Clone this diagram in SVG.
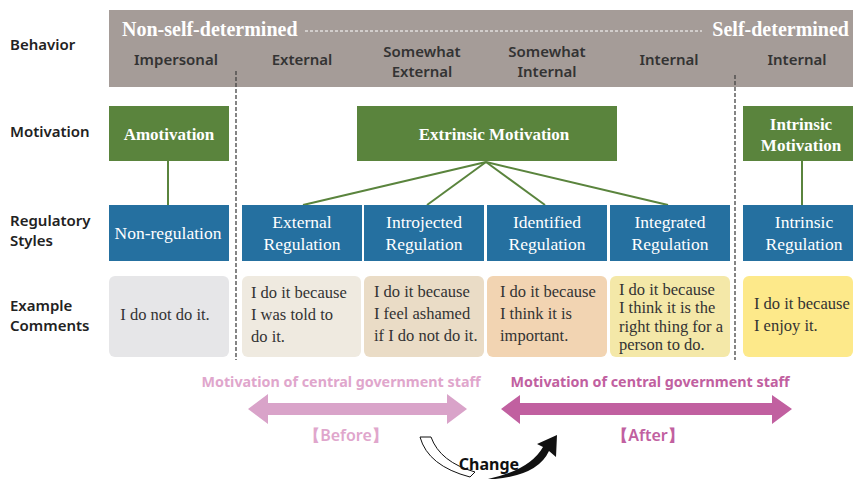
<svg xmlns="http://www.w3.org/2000/svg" width="853" height="479" viewBox="0 0 853 479">
<style>
.lbl{font-family:"Noto Sans","Open Sans",sans-serif;font-weight:600;font-size:15px;fill:#222}
.sub{font-family:"Noto Sans","Open Sans",sans-serif;font-weight:600;font-size:15px;fill:#333;text-anchor:middle}
.hdr{font-family:"Liberation Serif",serif;font-weight:bold;font-size:20px;fill:#fff}
.mot{fill:#5a843d}
.motT{font-family:"Liberation Serif",serif;font-weight:bold;font-size:17px;fill:#fff;text-anchor:middle}
.reg{fill:#2570a0}
.regT{font-family:"Liberation Serif",serif;font-size:17.5px;fill:#fff;text-anchor:middle}
.ex{font-family:"Liberation Serif",serif;font-size:16.5px;fill:#333}
.conn{stroke:#5a843d;stroke-width:2;fill:none}
.vd{stroke:#444;stroke-width:1.3;stroke-dasharray:4,2;fill:none}
.bt{font-family:"Noto Sans","Open Sans",sans-serif;font-weight:bold;font-size:14.3px;text-anchor:middle}
.bb{font-family:"Noto Sans","Open Sans",sans-serif;font-weight:600;font-size:16px;text-anchor:middle}
</style>
<rect x="0" y="0" width="853" height="479" fill="#fff"/>
<g id="row-labels">
<text class="lbl" x="10" y="50">Behavior</text>
<text class="lbl" x="10" y="137">Motivation</text>
<text class="lbl" x="10" y="226">Regulatory</text>
<text class="lbl" x="10" y="246">Styles</text>
<text class="lbl" x="10" y="311">Example</text>
<text class="lbl" x="10" y="331">Comments</text>
</g>
<g id="behavior">
<rect x="109" y="10" width="744" height="77" fill="#a59c98"/>
<text class="hdr" x="122" y="36">Non-self-determined</text>
<line x1="305" y1="31" x2="702" y2="31" stroke="#fff" stroke-width="1" stroke-dasharray="3,2"/>
<text class="hdr" x="849" y="36" text-anchor="end">Self-determined</text>
<text class="sub" x="176" y="65">Impersonal</text>
<text class="sub" x="302" y="65">External</text>
<text class="sub" x="422" y="57">Somewhat</text>
<text class="sub" x="422" y="77">External</text>
<text class="sub" x="547" y="57">Somewhat</text>
<text class="sub" x="547" y="77">Internal</text>
<text class="sub" x="669" y="65">Internal</text>
<text class="sub" x="797" y="65">Internal</text>
</g>
<g id="connectors">
<line class="vd" x1="236" y1="71" x2="236" y2="360"/>
<line class="vd" x1="735" y1="75" x2="735" y2="360"/>
<line class="conn" x1="168" y1="161" x2="168" y2="205"/>
<line class="conn" x1="486" y1="162" x2="303" y2="205"/>
<line class="conn" x1="486" y1="162" x2="427" y2="205"/>
<line class="conn" x1="486" y1="162" x2="545" y2="205"/>
<line class="conn" x1="486" y1="162" x2="668" y2="205"/>
<line class="conn" x1="802" y1="161" x2="802" y2="205"/>
</g>
<g id="amotivation"><rect class="mot" x="109" y="106" width="120" height="55"/><text class="motT" x="169" y="140">Amotivation</text></g>
<g id="extrinsic"><rect class="mot" x="357" y="106" width="260" height="55"/><text class="motT" x="494" y="140">Extrinsic Motivation</text></g>
<g id="intrinsic"><rect class="mot" x="743" y="106" width="110" height="55"/><text class="motT" x="801" y="130">Intrinsic</text><text class="motT" x="801" y="151">Motivation</text></g>
<g id="non-regulation"><rect class="reg" x="109" y="205" width="120" height="56"/><text class="regT" x="168" y="239">Non-regulation</text></g>
<g id="external-regulation"><rect class="reg" x="242" y="205" width="120" height="56"/><text class="regT" x="302" y="228">External</text><text class="regT" x="302" y="250">Regulation</text></g>
<g id="introjected-regulation"><rect class="reg" x="364" y="205" width="120" height="56"/><text class="regT" x="424" y="228">Introjected</text><text class="regT" x="424" y="250">Regulation</text></g>
<g id="identified-regulation"><rect class="reg" x="487" y="205" width="120" height="56"/><text class="regT" x="547" y="228">Identified</text><text class="regT" x="547" y="250">Regulation</text></g>
<g id="integrated-regulation"><rect class="reg" x="610" y="205" width="120" height="56"/><text class="regT" x="670" y="228">Integrated</text><text class="regT" x="670" y="250">Regulation</text></g>
<g id="intrinsic-regulation"><rect class="reg" x="743" y="205" width="110" height="56"/><text class="regT" x="804" y="228">Intrinsic</text><text class="regT" x="804" y="250">Regulation</text></g>
<g id="comment-1"><rect x="109" y="276" width="120" height="81" rx="6" fill="#e6e6e8"/><text class="ex" x="165" y="320" text-anchor="middle">I do not do it.</text></g>
<g id="comment-2"><rect x="242" y="276" width="119" height="81" rx="6" fill="#efeae0"/><text class="ex" x="251" y="298">I do it because</text><text class="ex" x="251" y="320">I was told to</text><text class="ex" x="251" y="342">do it.</text></g>
<g id="comment-3"><rect x="364" y="276" width="120" height="81" rx="6" fill="#eadcc6"/><text class="ex" x="374" y="297">I do it because</text><text class="ex" x="374" y="319">I feel ashamed</text><text class="ex" x="374" y="341">if I do not do it.</text></g>
<g id="comment-4"><rect x="487" y="276" width="120" height="81" rx="6" fill="#f2d4b2"/><text class="ex" x="500" y="297">I do it because</text><text class="ex" x="500" y="319">I think it is</text><text class="ex" x="500" y="341">important.</text></g>
<g id="comment-5"><rect x="610" y="276" width="120" height="81" rx="6" fill="#f4e8a8"/><text class="ex" x="619" y="295">I do it because</text><text class="ex" x="619" y="313">I think it is the</text><text class="ex" x="619" y="332">right thing for a</text><text class="ex" x="619" y="350">person to do.</text></g>
<g id="comment-6"><rect x="743" y="276" width="110" height="81" rx="6" fill="#fde98a"/><text class="ex" x="754" y="309">I do it because</text><text class="ex" x="754" y="331">I enjoy it.</text></g>
<g id="before">
<text class="bt" x="341" y="387" fill="#e0a6cc">Motivation of central government staff</text>
<polygon points="248,409 268,394 268,403 447,403 447,394 467,409 447,424 447,415 268,415 268,424" fill="#d9a3c9"/>
<text class="bb" x="346" y="441" fill="#e0a6cc">【Before】</text>
</g>
<g id="after">
<text class="bt" x="650" y="387" fill="#c160a0">Motivation of central government staff</text>
<polygon points="501,409 520,395 520,403 772,403 772,395 792,409 772,424 772,415 520,415 520,424" fill="#c160a0"/>
<text class="bb" x="648" y="441" fill="#c160a0">【After】</text>
</g>
<g id="change">
<path d="M420,437 L431,437 Q440,462 475,472 L470,477 Q428,466 420,437 Z" fill="#fff" stroke="#111" stroke-width="1"/>
<path d="M488,479 Q530,470 543,447 L537,444 L557,435 L556,457 L549,451 Q538,475 495,479 Z" fill="#111"/>
<text x="489" y="470" font-family="Noto Sans, Open Sans, sans-serif" font-weight="bold" font-size="16" fill="#111" text-anchor="middle">Change</text>
</g>
</svg>
